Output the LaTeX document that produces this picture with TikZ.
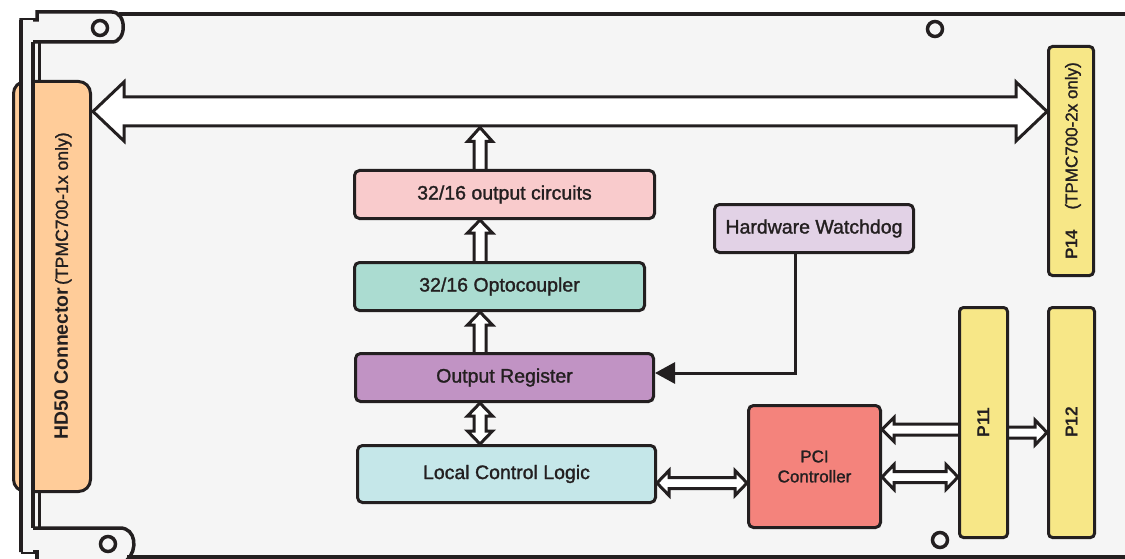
\documentclass[tikz,border=0pt]{standalone}
\usepackage{fontspec}
\setmainfont{Liberation Sans}
\newfontfamily\medfont{Liberation Sans}[FakeBold=1.4]
\usetikzlibrary{calc,arrows.meta}
\pgfdeclarelayer{bg0}
\pgfdeclarelayer{arr}
\pgfsetlayers{bg0,arr,main}
\definecolor{ink}{HTML}{231F20}
\definecolor{board}{HTML}{F5F5F5}
\definecolor{ocfill}{HTML}{F9CBCC}
\definecolor{optofill}{HTML}{ABDCD1}
\definecolor{regfill}{HTML}{C193C4}
\definecolor{lclfill}{HTML}{C5E7E9}
\definecolor{wdfill}{HTML}{E2D2E6}
\definecolor{pcifill}{HTML}{F4837C}
\definecolor{pfill}{HTML}{F7E787}
\definecolor{hdfill}{HTML}{FFCC99}
\tikzset{
  edge/.style={draw=ink, line width=3.5pt, line join=miter},
  blk/.style={draw=ink, line width=3pt, rounded corners=5pt, inner sep=0pt, text=ink,
    font=\medfont\fontsize{19.5}{22}\selectfont, align=center},
  pbox/.style={draw=ink, line width=3pt, rounded corners=4pt, inner sep=0pt, text=ink, fill=pfill},
  harrow/.style={draw=ink, fill=white, line width=3pt, line join=miter, miter limit=10},
}
% hollow arrows (axis aligned)
\newcommand\arrowLR[5]{\draw[harrow] (#1) -- ($(#1)+(#5,-#4)$) -- ($(#1)+(#5,-#3)$) -- ($(#2)+(-#5,-#3)$) -- ($(#2)+(-#5,-#4)$) -- (#2) -- ($(#2)+(-#5,#4)$) -- ($(#2)+(-#5,#3)$) -- ($(#1)+(#5,#3)$) -- ($(#1)+(#5,#4)$) -- cycle;}
\newcommand\arrowR[5]{\draw[harrow] ($(#1)+(0,-#3)$) -- ($(#2)+(-#5,-#3)$) -- ($(#2)+(-#5,-#4)$) -- (#2) -- ($(#2)+(-#5,#4)$) -- ($(#2)+(-#5,#3)$) -- ($(#1)+(0,#3)$) -- cycle;}
\newcommand\arrowL[5]{\draw[harrow] ($(#1)+(0,-#3)$) -- ($(#2)+(#5,-#3)$) -- ($(#2)+(#5,-#4)$) -- (#2) -- ($(#2)+(#5,#4)$) -- ($(#2)+(#5,#3)$) -- ($(#1)+(0,#3)$) -- cycle;}
\newcommand\arrowU[5]{\draw[harrow] ($(#1)+(-#3,0)$) -- ($(#2)+(-#3,#5)$) -- ($(#2)+(-#4,#5)$) -- (#2) -- ($(#2)+(#4,#5)$) -- ($(#2)+(#3,#5)$) -- ($(#1)+(#3,0)$) -- cycle;}
\newcommand\arrowUD[5]{\draw[harrow] (#1) -- ($(#1)+(#4,#5)$) -- ($(#1)+(#3,#5)$) -- ($(#2)+(#3,-#5)$) -- ($(#2)+(#4,-#5)$) -- (#2) -- ($(#2)+(-#4,-#5)$) -- ($(#2)+(-#3,-#5)$) -- ($(#1)+(-#3,#5)$) -- ($(#1)+(-#4,#5)$) -- cycle;}
\begin{document}
\begin{tikzpicture}[x=1pt,y=-1pt]
\useasboundingbox (0,0) rectangle (1125,559);
\begin{pgfonlayer}{bg0}
  \fill[white] (0,0) rectangle (1125,559);
  \fill[board] (21,20) -- (37,20) -- (37,12) -- (112,12) -- (120,14) -- (1125,14) -- (1125,557)
     -- (128,557) -- (126,559) -- (37,559) -- (37,552) -- (21,552) -- cycle;
  \draw[edge] (21,552) -- (21,20) -- (37,20) -- (37,12) -- (112,12)
     .. controls (127,12) and (127,42) .. (112,42) -- (33,42) -- (33,528) -- (120,528)
     .. controls (136,528) and (138,550) .. (127,560);
  \draw[edge] (21,552) -- (37,552) -- (37,560);
  \draw[edge] (119,14) -- (1126,14);
  \draw[edge] (127,557) -- (1126,557);
  \draw[edge] (39.5,42) -- (39.5,528);
  \foreach \p in {(100,28),(935,29),(108,544),(940,540)}
    \draw[edge, fill=board] \p circle (7.5pt);
\end{pgfonlayer}

% nodes
\node[pbox, fill=hdfill, rounded corners=12pt, minimum width=77pt, minimum height=410pt] (hd50) at (52,286.5) {};
\node[blk, fill=ocfill, minimum width=300pt, minimum height=48pt] (oc) at (504.5,194.5) {32/16 output circuits};
\node[blk, fill=optofill, minimum width=290pt, minimum height=48pt] (opto) at (499.5,286.5) {32/16 Optocoupler};
\node[blk, fill=regfill, minimum width=298pt, minimum height=48pt] (reg) at (504.5,377.5) {Output Register};
\node[blk, fill=lclfill, minimum width=298pt, minimum height=57pt] (lcl) at (506.5,474) {Local Control Logic};
\node[blk, fill=wdfill, minimum width=199pt, minimum height=48pt] (wd) at (814,228.5) {Hardware Watchdog};
\node[blk, fill=pcifill, minimum width=132pt, minimum height=122pt, font=\medfont\fontsize{17}{20}\selectfont] (pci) at (814.5,466.5) {PCI\\Controller};
\node[pbox, minimum width=48pt, minimum height=230pt] (p11) at (983.5,422.5) {};
\node[pbox, minimum width=46pt, minimum height=230pt] (p12) at (1071.5,422.5) {};
\node[pbox, minimum width=45pt, minimum height=229pt] (p14) at (1071,161) {};
\node[rotate=90, text=ink, inner sep=0pt] (p11t) at (p11.center) {\bfseries\fontsize{17.4}{20}\selectfont P11};
\node[rotate=90, text=ink, inner sep=0pt] (p12t) at (p12.center) {\bfseries\fontsize{17.4}{20}\selectfont P12};
\node[rotate=90, text=ink, inner sep=0pt] (p14t) at (1073,161) {\fontsize{17}{20}\selectfont\textbf{P14}\hspace{20pt}{\medfont(TPMC700-2x only)}};

% front panel strip over the connector
\fill[board] (21,20) rectangle (33,552);
\draw[edge] (21,20) -- (21,552);
\draw[edge] (33,42) -- (33,528);
\node[rotate=90, text=ink, inner sep=0pt] (hdt) at (63,286) {{\bfseries\fontsize{19.4}{22}\selectfont HD50 Connector} {\medfont\fontsize{17.6}{20}\selectfont(TPMC700-1x only)}};

\begin{pgfonlayer}{arr}
  \coordinate (ybus) at (0,111.5);
  \coordinate (colx) at (480,0);
  \coordinate (busL) at ($(hd50.east |- ybus)+(1,0)$);
  \coordinate (busR) at (p14.west |- ybus);
  \arrowLR{busL}{busR}{14.5}{29.5}{31}
  \coordinate (busB) at ($(busL)+(0,16)$);
  % vertical column arrows
  \coordinate (a1t) at (busB -| colx);
  \coordinate (a1s) at ($(oc.north -| colx)+(0,5)$);
  \arrowU{a1s}{a1t}{6}{12.5}{14}
  \coordinate (a2t) at (oc.south -| colx);
  \coordinate (a2s) at ($(opto.north -| colx)+(0,5)$);
  \arrowU{a2s}{a2t}{6}{12.5}{13}
  \coordinate (a3t) at (opto.south -| colx);
  \coordinate (a3s) at ($(reg.north -| colx)+(0,5)$);
  \arrowU{a3s}{a3t}{6}{12.5}{13}
  \coordinate (a4a) at (reg.south -| colx);
  \coordinate (a4b) at (lcl.north -| colx);
  \arrowUD{a4a}{a4b}{6}{12.5}{13}
  % horizontal arrows
  \coordinate (y0) at (0,483);
  \coordinate (y1) at (0,429.5);
  \coordinate (y2) at (0,477);
  \coordinate (y3) at (0,432.5);
  \coordinate (h1a) at (lcl.east |- y0);
  \coordinate (h1b) at (pci.west |- y0);
  \arrowLR{h1a}{h1b}{5.5}{12.5}{12}
  \coordinate (h2s) at ($(p11.west |- y1)+(5,0)$);
  \coordinate (h2t) at (pci.east |- y1);
  \arrowL{h2s}{h2t}{5.5}{12}{12}
  \coordinate (h3a) at (pci.east |- y2);
  \coordinate (h3b) at (p11.west |- y2);
  \arrowLR{h3a}{h3b}{5.5}{12.5}{12}
  \coordinate (h4s) at ($(p11.east |- y3)+(-5,0)$);
  \coordinate (h4t) at (p12.west |- y3);
  \arrowR{h4s}{h4t}{5.5}{12.5}{12}
  % watchdog
  \coordinate (wds) at ($(wd.south)+(-19,-4)$);
  \coordinate (wdt) at ($(reg.east)+(0,-4.5)$);
  \draw[draw=ink, line width=3pt, -{Triangle[length=20pt,width=21pt]}] (wds) |- (wdt);
\end{pgfonlayer}
\end{tikzpicture}
\end{document}
